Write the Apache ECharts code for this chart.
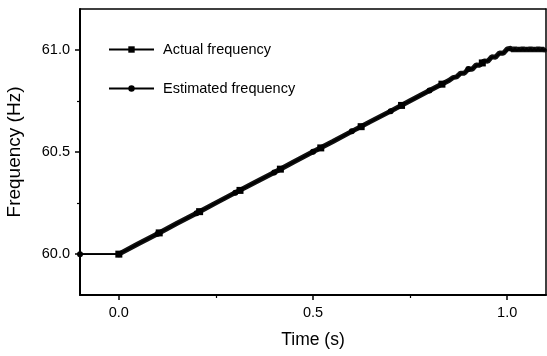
<!DOCTYPE html>
<html>
<head>
<meta charset="utf-8">
<script src="https://cdn.jsdelivr.net/npm/echarts@6/dist/echarts.min.js"></script>
<style>html,body{margin:0;padding:0;background:#fff}#c{width:547px;height:356px}</style>
</head>
<body>
<div id="c"></div>
<script>
// Actual frequency (marker positions along the ramp)
const actualTime = [-0.1, 0.0, 0.104, 0.208, 0.312, 0.416, 0.52, 0.624, 0.728, 0.832, 0.936, 1.003, 1.1];
const actualFreq = [60.0, 60.0, 60.104, 60.208, 60.312, 60.416, 60.52, 60.624, 60.728, 60.832, 60.936, 61.0, 61.0];
const actualMarkTime = [0.0, 0.104, 0.208, 0.312, 0.416, 0.52, 0.624, 0.728, 0.832, 0.936];
// Estimated frequency (slightly jittery trace)
const estTime = [-0.1, 0.0, 0.05, 0.1, 0.15, 0.2, 0.25, 0.3, 0.35, 0.4, 0.45, 0.5, 0.55, 0.6, 0.65, 0.7, 0.75, 0.8, 0.85,
  0.86, 0.87, 0.88, 0.89, 0.9, 0.91, 0.92, 0.93, 0.94, 0.95, 0.96, 0.97, 0.98, 0.99, 1.0, 1.005, 1.01, 1.015, 1.02, 1.025,
  1.03, 1.035, 1.04, 1.045, 1.05, 1.055, 1.06, 1.065, 1.07, 1.075, 1.08, 1.085, 1.09, 1.095, 1.1];
const estFreq = [60.0, 60.0, 60.051, 60.1, 60.151, 60.2, 60.251, 60.301, 60.351, 60.4, 60.451, 60.501, 60.55, 60.601, 60.651, 60.7, 60.751, 60.801, 60.85,
  60.864, 60.868, 60.886, 60.886, 60.906, 60.905, 60.926, 60.925, 60.946, 60.944, 60.966, 60.964, 60.985, 60.983, 61.004, 60.996, 61.008, 60.996, 61.009, 60.995,
  61.008, 60.996, 61.009, 60.995, 61.008, 60.996, 61.009, 60.995, 61.008, 60.996, 61.009, 60.995, 61.008, 60.996, 61.006];
const estMarkTime = [-0.1, 0.0, 0.1, 0.2, 0.3, 0.4, 0.5, 0.6, 0.7, 0.8, 0.9];
const xTicks = [0.0, 0.5, 1.0];
const xMinorTicks = [0.25, 0.75];
const yTicks = [60.0, 60.5, 61.0];
const yMinorTicks = [60.25, 60.75];

const chart = echarts.init(document.getElementById('c'));
const font = 'Liberation Sans, Arial, sans-serif';
const zip = (a, b) => a.map((v, i) => [v, b[i]]);
const frameAxis = (pos, min, max) => ({
  type: 'value', min: min, max: max, position: pos,
  splitLine: {show: false}, axisTick: {show: false}, axisLabel: {show: false},
  axisLine: {show: true, onZero: false, lineStyle: {color: '#000', width: 1.5}}
});

chart.setOption({
  animation: false,
  grid: {left: 80, right: 1, top: 9, bottom: 61, outerBoundsMode: 'none', containLabel: false},
  legend: {
    orient: 'vertical', left: 108, top: 42, padding: 0, itemWidth: 45, itemHeight: 8, itemGap: 24,
    textStyle: {fontFamily: font, fontSize: 14.5, color: '#000', padding: [0, 0, 0, 4]},
    data: ['Actual frequency', 'Estimated frequency']
  },
  xAxis: [
    {
      type: 'value', min: -0.1, max: 1.1, name: 'Time (s)', nameLocation: 'middle', nameGap: 36,
      nameTextStyle: {fontFamily: font, fontSize: 17.5, color: '#000'},
      splitLine: {show: false},
      axisLine: {onZero: false, lineStyle: {color: '#000', width: 2}},
      axisTick: {customValues: xTicks, length: 5, lineStyle: {color: '#000', width: 1.5}},
      axisLabel: {customValues: xTicks, margin: 10, fontFamily: font, fontSize: 14.5, color: '#000', formatter: v => v.toFixed(1)}
    },
    {
      type: 'value', min: -0.1, max: 1.1, position: 'bottom',
      splitLine: {show: false}, axisLine: {show: false, onZero: false}, axisLabel: {show: false},
      axisTick: {customValues: xMinorTicks, length: 3, lineStyle: {color: '#000', width: 1.2}}
    },
    frameAxis('top', -0.1, 1.1)
  ],
  yAxis: [
    {
      type: 'value', min: 59.8, max: 61.2, name: 'Frequency (Hz)', nameLocation: 'middle', nameGap: 56,
      nameTextStyle: {fontFamily: font, fontSize: 19, color: '#000'},
      splitLine: {show: false},
      axisLine: {show: true, onZero: false, lineStyle: {color: '#000', width: 2}},
      axisTick: {show: true, customValues: yTicks, length: 5, lineStyle: {color: '#000', width: 1.5}},
      axisLabel: {customValues: yTicks, margin: 10, fontFamily: font, fontSize: 14.5, color: '#000', formatter: v => v.toFixed(1)}
    },
    {
      type: 'value', min: 59.8, max: 61.2, position: 'left',
      splitLine: {show: false}, axisLine: {show: false, onZero: false}, axisLabel: {show: false},
      axisTick: {show: true, customValues: yMinorTicks, length: 3, lineStyle: {color: '#000', width: 1.2}}
    },
    frameAxis('right', 59.8, 61.2)
  ],
  series: [
    {
      name: 'Actual frequency', type: 'line',
      data: zip(actualTime, actualFreq).map(p => ({value: p, symbol: actualMarkTime.includes(p[0]) ? 'rect' : 'none'})),
      symbol: 'rect', symbolSize: 7, showAllSymbol: true,
      itemStyle: {color: '#000'},
      lineStyle: {color: '#000', width: 1.6}, z: 4
    },
    {
      name: 'Estimated frequency', type: 'line',
      data: zip(estTime, estFreq).map(p => ({value: p, symbol: estMarkTime.includes(p[0]) ? 'circle' : 'none'})),
      symbol: 'circle', symbolSize: 6, showAllSymbol: true,
      itemStyle: {color: '#000'},
      lineStyle: {color: '#000', width: 1.6}, z: 3
    },
    {
      name: 'Estimated trace', type: 'line', data: zip(estTime.slice(1), estFreq.slice(1)),
      showSymbol: false, lineStyle: {color: '#111', width: 5}, z: 2
    }
  ]
});
</script>
</body>
</html>
